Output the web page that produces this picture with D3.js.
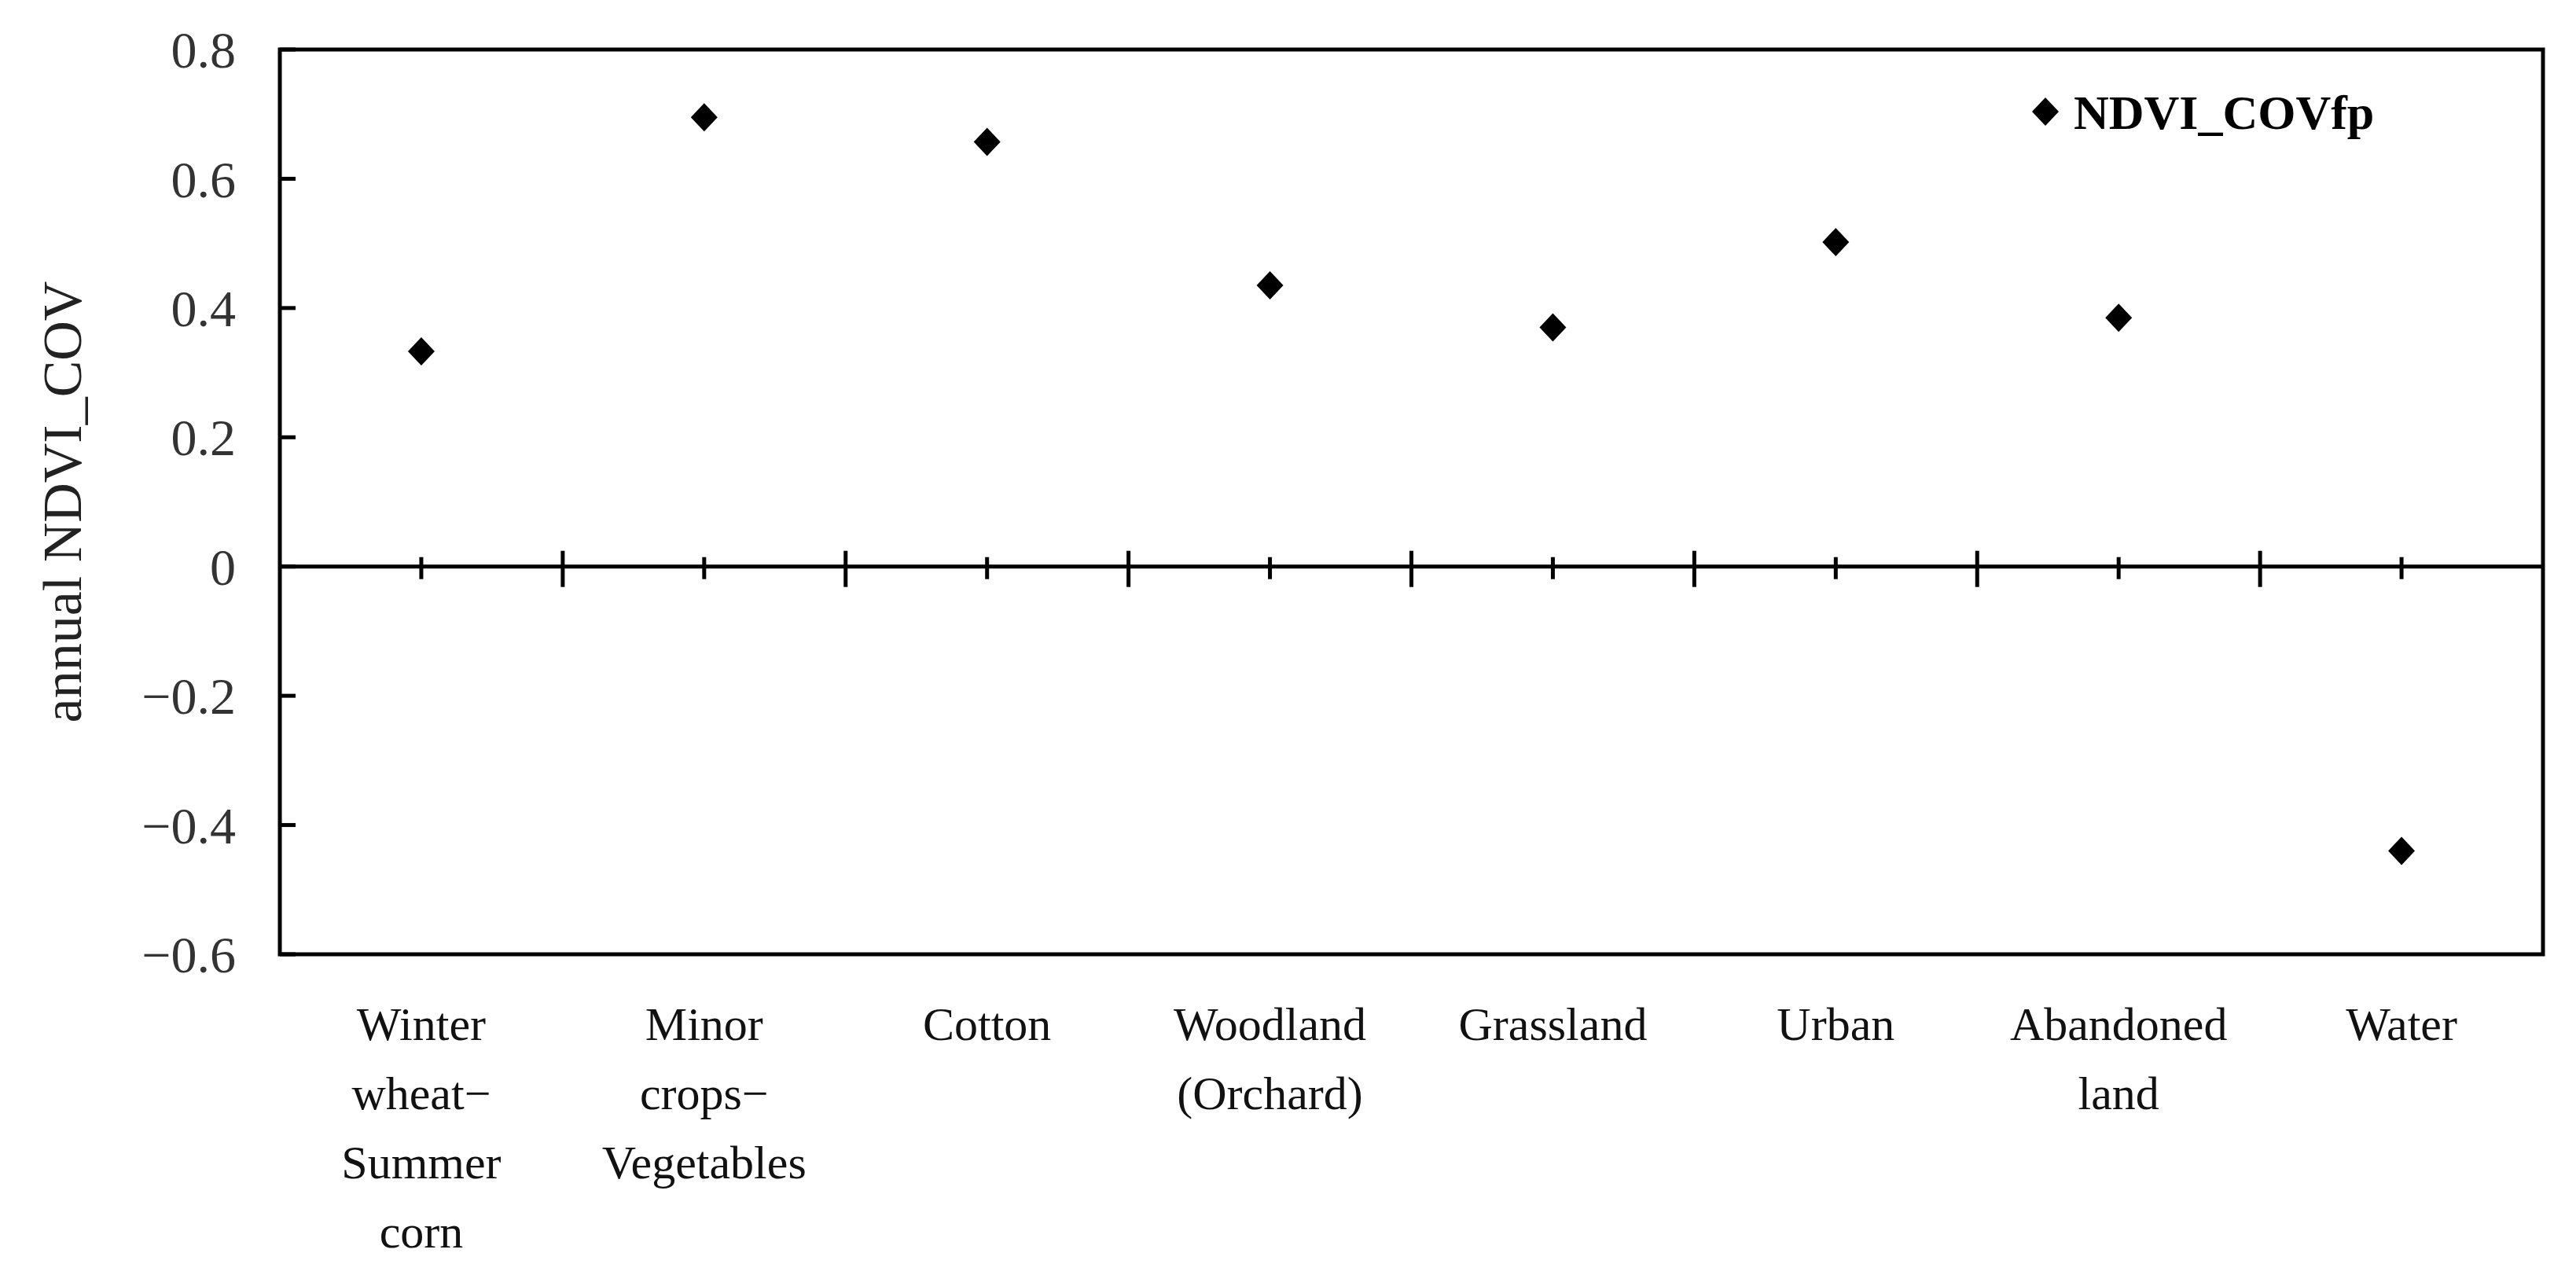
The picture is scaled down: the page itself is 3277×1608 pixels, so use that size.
<!DOCTYPE html>
<html>
<head>
<meta charset="utf-8">
<script src="https://cdn.jsdelivr.net/npm/d3@7"></script>
<style>
  body { margin: 0; background: #fff; }
  text { font-family: "Liberation Serif", "Times New Roman", serif; }
</style>
</head>
<body>
<div id="chart"></div>
<script>
// data
var categories = ["Winter wheat\u2212Summer corn", "Minor crops\u2212Vegetables", "Cotton", "Woodland (Orchard)",
                  "Grassland", "Urban", "Abandoned land", "Water"];
var labelLines = [["Winter", "wheat\u2212", "Summer", "corn"], ["Minor", "crops\u2212", "Vegetables"], ["Cotton"],
                  ["Woodland", "(Orchard)"], ["Grassland"], ["Urban"], ["Abandoned", "land"], ["Water"]];
var covValues = [0.333, 0.695, 0.657, 0.435, 0.370, 0.502, 0.385, -0.440];
var yTicks = [-0.6, -0.4, -0.2, 0, 0.2, 0.4, 0.6, 0.8];

var width = 3277, height = 1608;
var margin = {top: 63, right: 42, bottom: 394, left: 356};

var svg = d3.select("#chart").append("svg")
    .attr("width", width)
    .attr("height", height);

var xScale = d3.scaleBand().domain(categories).range([margin.left, width - margin.right]),
    yScale = d3.scaleLinear().domain([-0.6, 0.8]).range([height - margin.bottom, margin.top]);

// frame
svg.append("rect")
    .attr("x", margin.left).attr("y", margin.top)
    .attr("width", width - margin.left - margin.right)
    .attr("height", height - margin.top - margin.bottom)
    .attr("fill", "none").attr("stroke", "#000").attr("stroke-width", 5);

// y ticks (inward) and labels
var yAxis = svg.append("g");
yAxis.selectAll("line").data(yTicks).enter().append("line")
    .attr("x1", margin.left).attr("x2", margin.left + 20)
    .attr("y1", d => yScale(d)).attr("y2", d => yScale(d))
    .attr("stroke", "#000").attr("stroke-width", 5);
yAxis.selectAll("text").data(yTicks).enter().append("text")
    .attr("x", margin.left - 56).attr("y", d => yScale(d))
    .attr("dy", "0.35em")
    .attr("text-anchor", "end")
    .attr("font-size", 66)
    .attr("fill", "#333")
    .text(d => d < 0 ? "\u2212" + d3.format("")(-d) : d3.format("")(d));

// zero line
var y0 = yScale(0);
svg.append("line")
    .attr("x1", margin.left).attr("x2", width - margin.right)
    .attr("y1", y0).attr("y2", y0)
    .attr("stroke", "#000").attr("stroke-width", 5);

// category ticks on zero line
var bounds = categories.slice(1).map(c => xScale(c));
svg.append("g").selectAll("line").data(bounds).enter().append("line")
    .attr("x1", d => d).attr("x2", d => d)
    .attr("y1", y0 - 20).attr("y2", y0 + 26)
    .attr("stroke", "#000").attr("stroke-width", 5);
svg.append("g").selectAll("line").data(categories).enter().append("line")
    .attr("x1", d => xScale(d) + xScale.bandwidth() / 2).attr("x2", d => xScale(d) + xScale.bandwidth() / 2)
    .attr("y1", y0 - 12).attr("y2", y0 + 16)
    .attr("stroke", "#000").attr("stroke-width", 5);

// category labels
var labels = svg.append("g");
categories.forEach(function(c, i) {
  var t = labels.append("text")
      .attr("text-anchor", "middle")
      .attr("font-size", 60)
      .attr("fill", "#111");
  labelLines[i].forEach(function(line, j) {
    t.append("tspan")
      .attr("x", xScale(c) + xScale.bandwidth() / 2)
      .attr("y", 1323 + j * 88)
      .text(line);
  });
});

// y axis title
svg.append("text")
    .attr("transform", "translate(78," + ((margin.top + height - margin.bottom) / 2) + ") rotate(-90)")
    .attr("text-anchor", "middle")
    .attr("dy", "0.35em")
    .attr("font-size", 70)
    .attr("fill", "#222")
    .text("annual NDVI_COV");

// diamonds
var diamond = "M0,-18L17,0L0,18L-17,0Z";
svg.append("g").selectAll("path").data(covValues).enter().append("path")
    .attr("d", diamond)
    .attr("transform", (d, i) => "translate(" + (xScale(categories[i]) + xScale.bandwidth() / 2) + "," + yScale(d) + ")")
    .attr("fill", "#000");

// legend
svg.append("path").attr("d", diamond).attr("transform", "translate(2602,142)").attr("fill", "#000");
svg.append("text")
    .attr("x", 2638).attr("y", 142).attr("dy", "0.35em")
    .attr("font-size", 62).attr("font-weight", "bold")
    .text("NDVI_COVfp");
</script>
</body>
</html>
